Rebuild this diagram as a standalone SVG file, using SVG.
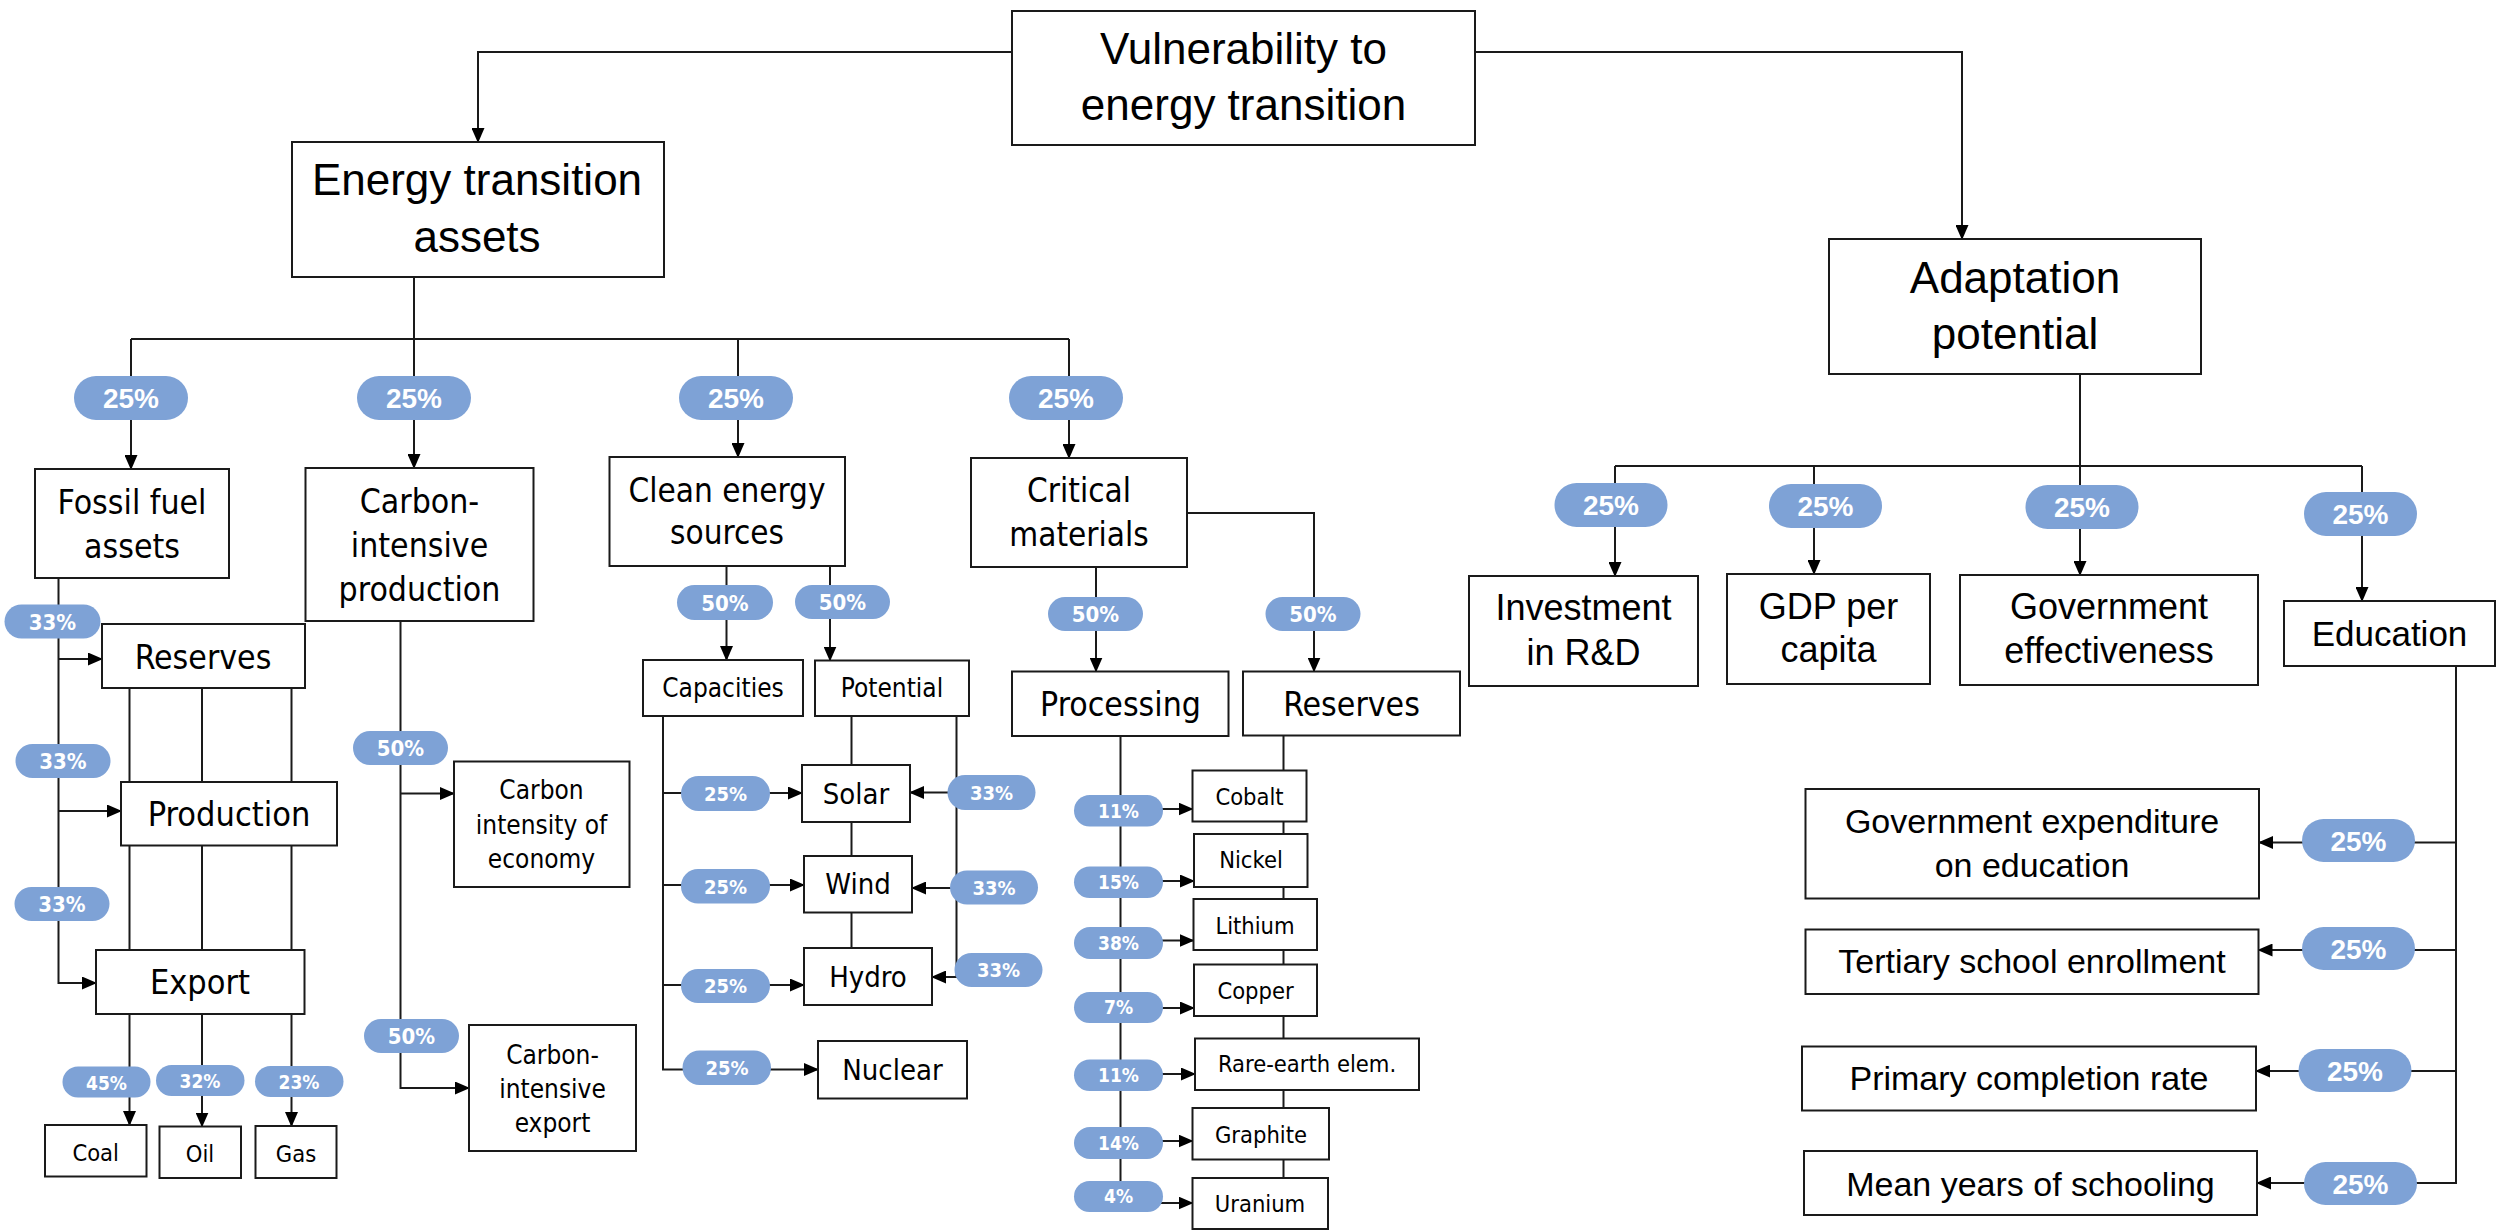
<svg xmlns="http://www.w3.org/2000/svg" width="2496" height="1230" viewBox="0 0 2496 1230">
<defs>
<marker id="ah" markerUnits="userSpaceOnUse" viewBox="0 0 15 13" refX="14" refY="6.5" markerWidth="15" markerHeight="13" orient="auto"><path d="M0,0 L15,6.5 L0,13 z" fill="#000"/></marker>
<style>
.box{fill:#fff;stroke:#1a1a1a;stroke-width:2}
.c{font-family:"Liberation Sans",Arial,sans-serif;fill:#000;text-anchor:middle}
.t{font-family:"DejaVu Sans Condensed","DejaVu Sans",sans-serif;font-stretch:condensed;fill:#000;text-anchor:middle}
.ln{fill:none;stroke:#1a1a1a;stroke-width:2}
.ar{marker-end:url(#ah)}
.pill{fill:#7ea2d6}
.pc{font-family:"Liberation Sans",Arial,sans-serif;font-weight:bold;font-size:28px;fill:#fff;text-anchor:middle}
.pt{font-family:"DejaVu Sans Condensed","DejaVu Sans",sans-serif;font-stretch:condensed;font-weight:bold;fill:#fff;text-anchor:middle}
</style>
</defs>
<rect width="2496" height="1230" fill="#fff"/>

<g id="connectors">
<path class="ln ar" d="M1012,52 H478 V142"/>
<path class="ln ar" d="M1475,52 H1962 V239"/>
<path class="ln ar" d="M414,277 V468"/>
<path class="ln" d="M131,339 H1069"/>
<path class="ln ar" d="M131,339 V469"/>
<path class="ln ar" d="M738,339 V457"/>
<path class="ln ar" d="M1069,339 V458"/>
<path class="ln ar" d="M2080,374 V575"/>
<path class="ln" d="M1615,466 H2362"/>
<path class="ln ar" d="M1615,466 V576"/>
<path class="ln ar" d="M1814,466 V574"/>
<path class="ln ar" d="M2362,466 V601"/>
<path class="ln ar" d="M58.5,578 V983 H96"/>
<path class="ln ar" d="M58.5,659 H102"/>
<path class="ln ar" d="M58.5,811 H121"/>
<path class="ln" d="M129.5,688 V782 M202,688 V782 M291.5,688 V782 M129.5,845.5 V950 M202,845.5 V950 M291.5,845.5 V950"/>
<path class="ln ar" d="M129.5,1014 V1125"/>
<path class="ln ar" d="M202,1014 V1126.5"/>
<path class="ln ar" d="M291.5,1014 V1126"/>
<path class="ln ar" d="M400.5,621 V1088 H469"/>
<path class="ln ar" d="M400.5,793.5 H454"/>
<path class="ln ar" d="M726.5,566 V660"/>
<path class="ln ar" d="M830,566 V660.5"/>
<path class="ln ar" d="M663,716 V1069.5 H818"/>
<path class="ln ar" d="M663,793 H802"/>
<path class="ln ar" d="M663,885 H804"/>
<path class="ln ar" d="M663,985 H804"/>
<path class="ln" d="M851.5,716 V765 M851.5,822 V856 M851.5,912.5 V948"/>
<path class="ln ar" d="M956.5,716 V977 H932"/>
<path class="ln ar" d="M956.5,792.5 H910"/>
<path class="ln ar" d="M956.5,888 H912"/>
<path class="ln ar" d="M1096,567 V671.5"/>
<path class="ln ar" d="M1187,513 H1314 V671.5"/>
<path class="ln ar" d="M1120.5,736 V1203 H1192.5"/>
<path class="ln ar" d="M1120.5,809 H1192.5"/>
<path class="ln ar" d="M1120.5,881 H1194"/>
<path class="ln ar" d="M1120.5,940.5 H1193.5"/>
<path class="ln ar" d="M1120.5,1008 H1194"/>
<path class="ln ar" d="M1120.5,1074 H1195"/>
<path class="ln ar" d="M1120.5,1141 H1192.5"/>
<path class="ln" d="M1283.5,735.5 V770.5 M1283.5,821.5 V834 M1283.5,887 V899 M1283.5,950 V964.5 M1283.5,1016 V1038.5 M1283.5,1090 V1108 M1283.5,1159.5 V1178"/>
<path class="ln ar" d="M2456,666 V1183 H2257"/>
<path class="ln ar" d="M2456,842.5 H2259"/>
<path class="ln ar" d="M2456,950 H2258.5"/>
<path class="ln ar" d="M2456,1071 H2256"/>

<g id="weights">
<rect class="pill" x="74" y="376" width="114" height="44" rx="22"/><text class="pc" x="131" y="408">25%</text>
<rect class="pill" x="357" y="376" width="114" height="44" rx="22"/><text class="pc" x="414" y="408">25%</text>
<rect class="pill" x="679" y="376" width="114" height="44" rx="22"/><text class="pc" x="736" y="408">25%</text>
<rect class="pill" x="1009" y="376" width="114" height="44" rx="22"/><text class="pc" x="1066" y="408">25%</text>

<rect class="pill" x="1554.5" y="483" width="113" height="44" rx="22"/><text class="pc" x="1611" y="515">25%</text>
<rect class="pill" x="1769" y="484" width="113" height="44" rx="22"/><text class="pc" x="1825.5" y="516">25%</text>
<rect class="pill" x="2025.5" y="485" width="113" height="44" rx="22"/><text class="pc" x="2082" y="517">25%</text>
<rect class="pill" x="2304" y="492" width="113" height="44" rx="22"/><text class="pc" x="2360.5" y="524">25%</text>

<rect class="pill" x="2302" y="819" width="113" height="43" rx="21.5"/><text class="pc" x="2358.5" y="851">25%</text>
<rect class="pill" x="2302" y="927" width="113" height="43" rx="21.5"/><text class="pc" x="2358.5" y="959">25%</text>
<rect class="pill" x="2298.5" y="1049" width="113" height="43" rx="21.5"/><text class="pc" x="2355" y="1081">25%</text>
<rect class="pill" x="2304" y="1162" width="113" height="43" rx="21.5"/><text class="pc" x="2360.5" y="1194">25%</text>

<rect class="pill" x="4.5" y="604.5" width="96" height="34" rx="17"/><text class="pt" x="52.5" y="629.5" font-size="22">33%</text>
<rect class="pill" x="15.5" y="744" width="95" height="34" rx="17"/><text class="pt" x="63" y="769" font-size="22">33%</text>
<rect class="pill" x="14.5" y="887" width="95" height="34" rx="17"/><text class="pt" x="62" y="912" font-size="22">33%</text>
<rect class="pill" x="353" y="731" width="95" height="34" rx="17"/><text class="pt" x="400.5" y="756" font-size="22">50%</text>
<rect class="pill" x="364" y="1019" width="95" height="34" rx="17"/><text class="pt" x="411.5" y="1044" font-size="22">50%</text>
<rect class="pill" x="677" y="585" width="96" height="35" rx="17.5"/><text class="pt" x="725" y="610.5" font-size="22">50%</text>
<rect class="pill" x="795" y="585" width="95" height="34" rx="17"/><text class="pt" x="842.5" y="610" font-size="22">50%</text>
<rect class="pill" x="1048" y="597" width="95" height="34" rx="17"/><text class="pt" x="1095.5" y="622" font-size="22">50%</text>
<rect class="pill" x="1265.5" y="597" width="95" height="34" rx="17"/><text class="pt" x="1313" y="622" font-size="22">50%</text>

<rect class="pill" x="62.5" y="1066.5" width="88" height="31" rx="15.5"/><text class="pt" x="106.5" y="1089.5" font-size="19">45%</text>
<rect class="pill" x="156" y="1065" width="88.5" height="31" rx="15.5"/><text class="pt" x="200" y="1088" font-size="19">32%</text>
<rect class="pill" x="255" y="1066" width="88.5" height="31" rx="15.5"/><text class="pt" x="299" y="1089" font-size="19">23%</text>

<rect class="pill" x="681" y="776" width="89" height="35" rx="17.5"/><text class="pt" x="725.5" y="800.5" font-size="20">25%</text>
<rect class="pill" x="681" y="869" width="89" height="34.5" rx="17"/><text class="pt" x="725.5" y="893.5" font-size="20">25%</text>
<rect class="pill" x="681" y="969" width="89" height="34" rx="17"/><text class="pt" x="725.5" y="993" font-size="20">25%</text>
<rect class="pill" x="682.5" y="1050.5" width="88.5" height="34.5" rx="17"/><text class="pt" x="727" y="1075" font-size="20">25%</text>

<rect class="pill" x="947.5" y="775" width="88" height="35" rx="17.5"/><text class="pt" x="991.5" y="799.5" font-size="20">33%</text>
<rect class="pill" x="950" y="870.5" width="88" height="34" rx="17"/><text class="pt" x="994" y="894.5" font-size="20">33%</text>
<rect class="pill" x="954.5" y="953" width="88" height="34" rx="17"/><text class="pt" x="998.5" y="977" font-size="20">33%</text>

<rect class="pill" x="1074" y="795" width="89" height="31.5" rx="15.75"/><text class="pt" x="1118.5" y="817.5" font-size="19">11%</text>
<rect class="pill" x="1074" y="866.5" width="89" height="31.5" rx="15.75"/><text class="pt" x="1118.5" y="889" font-size="19">15%</text>
<rect class="pill" x="1074" y="927" width="89" height="32" rx="16"/><text class="pt" x="1118.5" y="949.5" font-size="19">38%</text>
<rect class="pill" x="1074" y="992" width="89" height="31" rx="15.5"/><text class="pt" x="1118.5" y="1014" font-size="19">7%</text>
<rect class="pill" x="1074" y="1059.5" width="89" height="31.5" rx="15.75"/><text class="pt" x="1118.5" y="1082" font-size="19">11%</text>
<rect class="pill" x="1074" y="1127" width="89" height="32" rx="16"/><text class="pt" x="1118.5" y="1149.5" font-size="19">14%</text>
<rect class="pill" x="1074" y="1181" width="89" height="31" rx="15.5"/><text class="pt" x="1118.5" y="1203" font-size="19">4%</text>
</g>
</g>

<g id="vulnerability"><rect class="box" x="1012" y="11" width="463" height="134"/><text class="c" font-size="44"><tspan x="1243.5" y="64">Vulnerability to</tspan><tspan x="1243.5" y="120">energy transition</tspan></text></g>
<g id="energy-transition-assets"><rect class="box" x="292" y="142" width="372" height="135"/><text class="c" font-size="44"><tspan x="477" y="195">Energy transition</tspan><tspan x="477" y="252">assets</tspan></text></g>
<g id="adaptation-potential"><rect class="box" x="1829" y="239" width="372" height="135"/><text class="c" font-size="44"><tspan x="2015" y="293">Adaptation</tspan><tspan x="2015" y="349">potential</tspan></text></g>

<g id="fossil-fuel-assets"><rect class="box" x="35" y="469" width="194" height="109"/><text class="t" font-size="33.5"><tspan x="132" y="514">Fossil fuel</tspan><tspan x="132" y="558">assets</tspan></text></g>
<g id="ff-reserves"><rect class="box" x="102" y="624" width="203" height="64"/><text class="t" font-size="33.5" x="203" y="669">Reserves</text></g>
<g id="ff-production"><rect class="box" x="121" y="782" width="216" height="63.5"/><text class="t" font-size="34" x="229" y="826">Production</text></g>
<g id="ff-export"><rect class="box" x="96" y="950" width="208.5" height="64"/><text class="t" font-size="34" x="200" y="994">Export</text></g>
<g id="coal"><rect class="box" x="45" y="1125" width="101.5" height="51.5"/><text class="t" font-size="23.5" x="95.7" y="1161">Coal</text></g>
<g id="oil"><rect class="box" x="159.5" y="1126.5" width="81.5" height="51.5"/><text class="t" font-size="23.5" x="200" y="1162">Oil</text></g>
<g id="gas"><rect class="box" x="255.5" y="1126" width="81" height="52"/><text class="t" font-size="23.5" x="296" y="1162">Gas</text></g>

<g id="carbon-intensive-production"><rect class="box" x="305.5" y="468" width="228" height="153"/><text class="t" font-size="33.5"><tspan x="419.5" y="513">Carbon-</tspan><tspan x="419.5" y="557">intensive</tspan><tspan x="419.5" y="601">production</tspan></text></g>
<g id="carbon-intensity-economy"><rect class="box" x="454" y="761.5" width="175.5" height="125.5"/><text class="t" font-size="26"><tspan x="541.5" y="798.5">Carbon</tspan><tspan x="541.5" y="834">intensity of</tspan><tspan x="541.5" y="868">economy</tspan></text></g>
<g id="carbon-intensive-export"><rect class="box" x="469" y="1025" width="167" height="126"/><text class="t" font-size="26"><tspan x="552.5" y="1063.5">Carbon-</tspan><tspan x="552.5" y="1098">intensive</tspan><tspan x="552.5" y="1132">export</tspan></text></g>

<g id="clean-energy-sources"><rect class="box" x="609.5" y="457" width="235.5" height="109"/><text class="t" font-size="33"><tspan x="727" y="501.5">Clean energy</tspan><tspan x="727" y="544">sources</tspan></text></g>
<g id="capacities"><rect class="box" x="643" y="660" width="160" height="56"/><text class="t" font-size="26" x="723" y="697">Capacities</text></g>
<g id="potential"><rect class="box" x="815" y="660.5" width="154" height="55.5"/><text class="t" font-size="26" x="892" y="697">Potential</text></g>
<g id="solar"><rect class="box" x="802" y="765" width="108" height="57"/><text class="t" font-size="29" x="856" y="803.5">Solar</text></g>
<g id="wind"><rect class="box" x="804" y="856" width="108" height="56.5"/><text class="t" font-size="29" x="858" y="894">Wind</text></g>
<g id="hydro"><rect class="box" x="804" y="948" width="128" height="57"/><text class="t" font-size="29" x="868" y="986.5">Hydro</text></g>
<g id="nuclear"><rect class="box" x="818" y="1041" width="149" height="57.5"/><text class="t" font-size="29" x="892.5" y="1080">Nuclear</text></g>

<g id="critical-materials"><rect class="box" x="971" y="458" width="216" height="109"/><text class="t" font-size="33"><tspan x="1079" y="502">Critical</tspan><tspan x="1079" y="545.5">materials</tspan></text></g>
<g id="processing"><rect class="box" x="1012" y="671.5" width="216.5" height="64.5"/><text class="t" font-size="33.5" x="1120.5" y="716">Processing</text></g>
<g id="cm-reserves"><rect class="box" x="1243" y="671.5" width="217" height="64"/><text class="t" font-size="33.5" x="1351.5" y="716">Reserves</text></g>
<g id="cobalt"><rect class="box" x="1192.5" y="770.5" width="114" height="51"/><text class="t" font-size="23.5" x="1249.5" y="804.5">Cobalt</text></g>
<g id="nickel"><rect class="box" x="1194" y="834" width="113.5" height="53"/><text class="t" font-size="23.5" x="1251" y="868">Nickel</text></g>
<g id="lithium"><rect class="box" x="1193.5" y="899" width="123.5" height="51"/><text class="t" font-size="23.5" x="1255" y="933.5">Lithium</text></g>
<g id="copper"><rect class="box" x="1194" y="964.5" width="123" height="51.5"/><text class="t" font-size="23.5" x="1255.5" y="999">Copper</text></g>
<g id="rare-earth"><rect class="box" x="1195" y="1038.5" width="224" height="51.5"/><text class="t" font-size="23.5" x="1307" y="1072">Rare-earth elem.</text></g>
<g id="graphite"><rect class="box" x="1192.5" y="1108" width="136.5" height="51.5"/><text class="t" font-size="23.5" x="1261" y="1142.5">Graphite</text></g>
<g id="uranium"><rect class="box" x="1192.5" y="1178" width="135.5" height="51"/><text class="t" font-size="23.5" x="1260" y="1211.5">Uranium</text></g>

<g id="investment-rd"><rect class="box" x="1469" y="576" width="229" height="110"/><text class="c" font-size="36"><tspan x="1583.5" y="620">Investment</tspan><tspan x="1583.5" y="665">in R&amp;D</tspan></text></g>
<g id="gdp-per-capita"><rect class="box" x="1727" y="574" width="203" height="110"/><text class="c" font-size="36"><tspan x="1828.5" y="619">GDP per</tspan><tspan x="1828.5" y="662">capita</tspan></text></g>
<g id="government-effectiveness"><rect class="box" x="1960" y="575" width="298" height="110"/><text class="c" font-size="36"><tspan x="2109" y="619">Government</tspan><tspan x="2109" y="663">effectiveness</tspan></text></g>
<g id="education"><rect class="box" x="2284" y="601" width="211" height="65"/><text class="c" font-size="35" x="2389.5" y="645.5">Education</text></g>
<g id="gov-expenditure-education"><rect class="box" x="1805.5" y="789" width="453.5" height="109.5"/><text class="c" font-size="34"><tspan x="2032" y="833">Government expenditure</tspan><tspan x="2032" y="877">on education</tspan></text></g>
<g id="tertiary-enrollment"><rect class="box" x="1805.5" y="929.5" width="453" height="64.5"/><text class="c" font-size="34" x="2032" y="973">Tertiary school enrollment</text></g>
<g id="primary-completion"><rect class="box" x="1802" y="1046.5" width="454" height="64"/><text class="c" font-size="34" x="2029" y="1090">Primary completion rate</text></g>
<g id="mean-years-schooling"><rect class="box" x="1804" y="1151" width="453" height="64"/><text class="c" font-size="34" x="2030.5" y="1195.5">Mean years of schooling</text></g>
</svg>
